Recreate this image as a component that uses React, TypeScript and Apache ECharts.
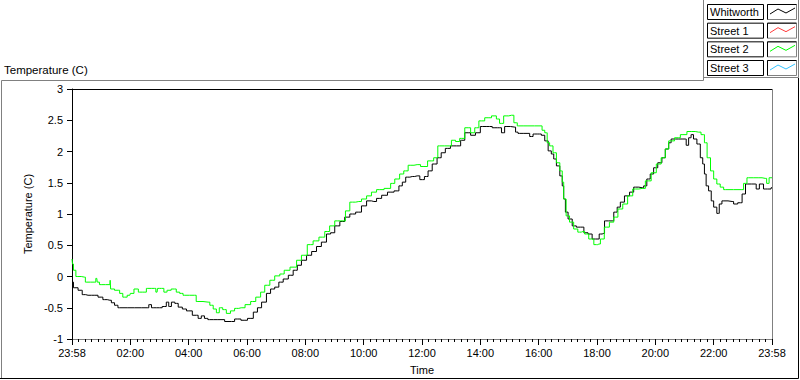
import React, { useEffect, useRef } from 'react';
import * as echarts from 'echarts';

const xTickLabels = ['23:58', '02:00', '04:00', '06:00', '08:00', '10:00', '12:00', '14:00', '16:00', '18:00', '20:00', '22:00', '23:58'];

const legendNames = ['Whitworth', 'Street 1', 'Street 2', 'Street 3'];

// minutes since 23:58 of previous day
const whitworthMinutes = [0, 6, 19, 23, 33, 47, 60, 67, 78, 84, 91, 98, 129, 156, 160, 167, 180, 191, 197, 201, 208, 215, 222, 232, 239, 256, 263, 269, 276, 283, 300, 328, 341, 354, 368, 378, 385, 395, 405, 412, 422, 429, 440, 450, 460, 467, 477, 488, 498, 508, 518, 529, 535, 546, 556, 566, 577, 590, 601, 611, 621, 632, 642, 656, 669, 676, 683, 690, 700, 710, 721, 729, 736, 746, 756, 763, 773, 784, 798, 801, 815, 825, 835, 845, 859, 870, 880, 887, 893, 911, 914, 921, 938, 945, 952, 962, 969, 976, 983, 989, 993, 1000, 1007, 1010, 1013, 1017, 1024, 1034, 1041, 1051, 1055, 1068, 1072, 1082, 1087, 1094, 1097, 1111, 1118, 1125, 1131, 1142, 1152, 1159, 1173, 1179, 1186, 1193, 1200, 1210, 1217, 1224, 1231, 1234, 1248, 1262, 1265, 1272, 1275, 1282, 1289, 1296, 1299, 1303, 1306, 1313, 1317, 1323, 1330, 1333, 1341, 1358, 1364, 1375, 1382, 1389, 1406, 1409, 1419, 1426, 1436, 1440];
const whitworthTemps = [-0.09, -0.18, -0.22, -0.29, -0.30, -0.30, -0.33, -0.37, -0.38, -0.42, -0.46, -0.50, -0.50, -0.50, -0.45, -0.50, -0.50, -0.48, -0.41, -0.48, -0.41, -0.43, -0.49, -0.52, -0.55, -0.62, -0.67, -0.63, -0.67, -0.69, -0.69, -0.72, -0.68, -0.70, -0.67, -0.57, -0.50, -0.41, -0.27, -0.20, -0.17, -0.09, -0.04, 0.02, 0.10, 0.18, 0.26, 0.34, 0.40, 0.48, 0.55, 0.68, 0.70, 0.81, 0.88, 0.95, 1.00, 1.03, 1.13, 1.21, 1.20, 1.25, 1.30, 1.35, 1.37, 1.45, 1.51, 1.59, 1.60, 1.61, 1.55, 1.60, 1.69, 1.80, 1.90, 1.98, 2.05, 2.09, 2.09, 2.18, 2.30, 2.26, 2.30, 2.40, 2.40, 2.38, 2.38, 2.30, 2.40, 2.39, 2.31, 2.29, 2.29, 2.24, 2.28, 2.28, 2.26, 2.17, 2.01, 1.96, 1.88, 1.77, 1.61, 1.45, 1.24, 1.03, 0.92, 0.81, 0.79, 0.79, 0.70, 0.68, 0.60, 0.60, 0.68, 0.69, 0.89, 0.89, 1.03, 1.11, 1.19, 1.29, 1.35, 1.43, 1.42, 1.45, 1.56, 1.64, 1.74, 1.82, 1.90, 2.04, 2.14, 2.20, 2.20, 2.20, 2.10, 2.22, 2.27, 2.20, 2.12, 1.90, 1.80, 1.64, 1.45, 1.37, 1.21, 1.11, 1.01, 1.16, 1.21, 1.20, 1.16, 1.18, 1.32, 1.48, 1.48, 1.40, 1.48, 1.40, 1.40, 1.42];

const street2Minutes = [0, 2, 4, 12, 26, 29, 47, 51, 53, 60, 78, 79, 80, 95, 101, 108, 119, 121, 134, 139, 150, 156, 170, 175, 177, 184, 194, 197, 211, 218, 225, 232, 252, 259, 280, 287, 294, 300, 306, 314, 321, 331, 338, 348, 364, 371, 385, 391, 402, 412, 422, 433, 440, 457, 467, 477, 491, 501, 515, 525, 535, 546, 559, 566, 577, 590, 601, 611, 621, 632, 652, 659, 669, 679, 686, 697, 710, 724, 739, 749, 756, 777, 784, 794, 801, 815, 825, 832, 842, 856, 870, 876, 883, 893, 904, 914, 918, 938, 965, 969, 976, 979, 986, 993, 1000, 1007, 1010, 1013, 1020, 1027, 1037, 1044, 1051, 1058, 1068, 1079, 1084, 1090, 1100, 1111, 1118, 1128, 1138, 1148, 1159, 1173, 1186, 1197, 1207, 1217, 1224, 1231, 1248, 1255, 1275, 1289, 1299, 1303, 1310, 1317, 1323, 1330, 1337, 1344, 1378, 1385, 1392, 1413, 1426, 1432, 1436, 1440];
const street2Temps = [0.28, 0.20, 0.10, 0.00, -0.01, -0.09, -0.09, -0.03, -0.09, -0.13, -0.13, -0.06, -0.20, -0.22, -0.27, -0.33, -0.30, -0.27, -0.20, -0.25, -0.25, -0.19, -0.19, -0.25, -0.19, -0.19, -0.25, -0.22, -0.20, -0.25, -0.27, -0.30, -0.30, -0.40, -0.41, -0.46, -0.52, -0.58, -0.50, -0.53, -0.59, -0.55, -0.51, -0.50, -0.45, -0.40, -0.33, -0.25, -0.14, -0.06, 0.01, 0.04, 0.10, 0.15, 0.26, 0.34, 0.51, 0.57, 0.63, 0.72, 0.81, 0.89, 0.89, 1.05, 1.19, 1.20, 1.24, 1.29, 1.35, 1.39, 1.41, 1.49, 1.56, 1.64, 1.69, 1.78, 1.79, 1.76, 1.85, 1.90, 2.09, 2.09, 2.18, 2.16, 2.21, 2.38, 2.30, 2.38, 2.49, 2.54, 2.57, 2.52, 2.45, 2.57, 2.58, 2.46, 2.41, 2.41, 2.41, 2.34, 2.30, 2.14, 2.09, 1.98, 1.82, 1.69, 1.51, 1.24, 0.97, 0.87, 0.76, 0.71, 0.72, 0.68, 0.60, 0.51, 0.52, 0.60, 0.79, 0.87, 0.95, 1.08, 1.16, 1.29, 1.40, 1.41, 1.53, 1.66, 1.80, 1.90, 2.04, 2.17, 2.22, 2.27, 2.32, 2.31, 2.27, 2.14, 1.90, 1.69, 1.56, 1.48, 1.43, 1.39, 1.39, 1.49, 1.58, 1.58, 1.57, 1.49, 1.58, 1.58];

const street1Minutes: number[] = [];
const street1Temps: number[] = [];
const street3Minutes: number[] = [];
const street3Temps: number[] = [];

const FONT = 'Liberation Sans, Arial, sans-serif';
const seriesColors = ['#000000', '#ff3b3b', '#00ff00', '#33c4ff'];

function pairs(xs: number[], ys: number[]) {
  return xs.map((x, i) => [x, ys[i]]);
}

function buildLegend() {
  const els: any[] = [];
  legendNames.forEach((name, i) => {
    const top = 4 + i * 18.67;
    els.push({
      type: 'rect',
      shape: { x: 707.5, y: top + 0.5, width: 56, height: 15 },
      style: { fill: '#fff', stroke: '#000', lineWidth: 1 },
      silent: true,
    });
    els.push({
      type: 'text',
      x: 710,
      y: top + 8,
      style: { text: name, fill: '#000', font: `11px ${FONT}`, verticalAlign: 'middle' },
      silent: true,
    });
    els.push({
      type: 'rect',
      shape: { x: 767.5, y: top + 0.5, width: 29, height: 15 },
      style: { fill: '#fff', stroke: '#808080', lineWidth: 1 },
      silent: true,
    });
    els.push({
      type: 'polyline',
      shape: { points: [[767.5, top + 15.5], [767.5, top + 0.5], [796.5, top + 0.5]] },
      style: { stroke: '#000', lineWidth: 1, fill: null },
      silent: true,
    });
    els.push({
      type: 'polyline',
      shape: { points: [[770, top + 10], [778, top + 5], [786, top + 9], [795, top + 4]] },
      style: { stroke: seriesColors[i], lineWidth: 1, fill: null },
      silent: true,
    });
  });
  return els;
}

export default function App() {
  const ref = useRef<HTMLDivElement>(null);
  useEffect(() => {
    if (!ref.current) return;
    const chart = echarts.init(ref.current, null, { renderer: 'svg' });
    const option: any = {
      animation: false,
      backgroundColor: '#ffffff',
      textStyle: { fontFamily: FONT },
      grid: { left: 72, top: 89, right: 28, bottom: 39, containLabel: false },
      xAxis: {
        type: 'value',
        min: 0,
        max: 1440,
        interval: 120,
        name: 'Time',
        nameLocation: 'middle',
        nameGap: 25,
        nameTextStyle: { color: '#000', fontSize: 11, fontFamily: FONT },
        axisLine: { show: true, onZero: false, lineStyle: { color: '#808080', width: 1 } },
        axisTick: { show: true, length: 6, lineStyle: { color: '#000' } },
        minorTick: { show: true, splitNumber: 9, length: 3, lineStyle: { color: '#000' } },
        axisLabel: {
          color: '#000',
          fontSize: 11,
          fontFamily: FONT,
          margin: 8,
          showMinLabel: true,
          showMaxLabel: true,
          formatter: (v: number) => xTickLabels[Math.round(v / 120)] ?? '',
        },
        splitLine: { show: false },
      },
      yAxis: {
        type: 'value',
        min: -1,
        max: 3,
        interval: 0.5,
        name: 'Temperature (C)',
        nameLocation: 'middle',
        nameGap: 32,
        nameRotate: 90,
        nameTextStyle: { color: '#000', fontSize: 11, fontFamily: FONT },
        axisLine: { show: true, onZero: false, lineStyle: { color: '#000', width: 1 } },
        axisTick: { show: true, length: 5, lineStyle: { color: '#000' } },
        axisLabel: { color: '#000', fontSize: 11, fontFamily: FONT, margin: 9 },
        splitLine: { show: false },
      },
      series: [
        { name: 'Whitworth', type: 'line', data: pairs(whitworthMinutes, whitworthTemps), step: 'middle', showSymbol: false, symbol: 'none', lineStyle: { color: seriesColors[0], width: 1 }, itemStyle: { color: seriesColors[0] } },
        { name: 'Street 1', type: 'line', data: pairs(street1Minutes, street1Temps), showSymbol: false, symbol: 'none', lineStyle: { color: seriesColors[1], width: 1 } },
        { name: 'Street 2', type: 'line', data: pairs(street2Minutes, street2Temps), step: 'middle', showSymbol: false, symbol: 'none', lineStyle: { color: seriesColors[2], width: 1 }, itemStyle: { color: seriesColors[2] } },
        { name: 'Street 3', type: 'line', data: pairs(street3Minutes, street3Temps), showSymbol: false, symbol: 'none', lineStyle: { color: seriesColors[3], width: 1 } },
      ],
      graphic: [
        { type: 'polyline', shape: { points: [[1.5, 378], [1.5, 80.5], [703.5, 80.5], [703.5, 0]] }, style: { stroke: '#808080', lineWidth: 1, fill: null }, silent: true },
        { type: 'polyline', shape: { points: [[703.5, 77.5], [798.5, 77.5], [798.5, 0]] }, style: { stroke: '#808080', lineWidth: 1, fill: null }, silent: true },
        { type: 'polyline', shape: { points: [[798.5, 78], [798.5, 378.5], [0, 378.5]] }, style: { stroke: '#000', lineWidth: 1, fill: null }, silent: true },
        { type: 'line', shape: { x1: 72, y1: 89.5, x2: 772.5, y2: 89.5 }, style: { stroke: '#000', lineWidth: 1 }, silent: true },
        { type: 'line', shape: { x1: 772.5, y1: 89.5, x2: 772.5, y2: 341 }, style: { stroke: '#808080', lineWidth: 1 }, silent: true },
        { type: 'text', x: 4, y: 64, style: { text: 'Temperature (C)', fill: '#000', font: `11.5px ${FONT}` }, silent: true },
        ...buildLegend(),
      ],
    };
    chart.setOption(option);
    return () => chart.dispose();
  }, []);
  return <div ref={ref} style={{ position: 'fixed', left: 0, top: 0, width: 800, height: 380, background: '#fff' }} />;
}
